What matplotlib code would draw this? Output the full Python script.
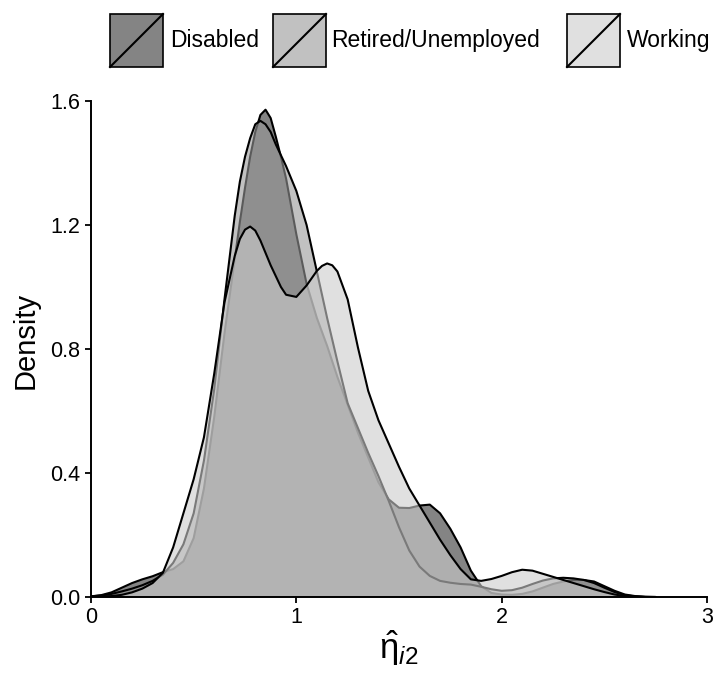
import numpy as np
import matplotlib
matplotlib.use("Agg")
import matplotlib.pyplot as plt
from matplotlib.patches import Rectangle
from matplotlib.lines import Line2D

plt.rcParams['font.family'] = ['Liberation Sans', 'DejaVu Sans']
plt.rcParams['mathtext.fontset'] = 'custom'
plt.rcParams['mathtext.rm'] = 'Liberation Sans'
plt.rcParams['mathtext.it'] = 'Liberation Sans:italic'

# ---- data ----
groups = ["Disabled", "Retired/Unemployed", "Working"]
fills = ["#333333", "#989898", "#CCCCCC"]

x_grid = [0.00, 0.05, 0.10, 0.15, 0.20, 0.25, 0.30, 0.35, 0.40, 0.45,
          0.50, 0.55, 0.60, 0.65, 0.70, 0.725, 0.75, 0.775, 0.80, 0.825,
          0.85, 0.875, 0.90, 0.925, 0.95, 1.00, 1.05, 1.10, 1.125, 1.15,
          1.175, 1.20, 1.25, 1.30, 1.35, 1.40, 1.45, 1.50, 1.55, 1.60,
          1.65, 1.70, 1.75, 1.80, 1.85, 1.90, 1.95, 2.00, 2.05, 2.10,
          2.15, 2.20, 2.25, 2.30, 2.35, 2.40, 2.45, 2.50, 2.55, 2.60,
          2.65, 2.70, 2.75]

dens_disabled = [0.002, 0.006, 0.015, 0.030, 0.045, 0.057, 0.067, 0.080, 0.090, 0.115,
                 0.190, 0.350, 0.580, 0.850, 1.090, 1.210, 1.320, 1.420, 1.500, 1.555,
                 1.572, 1.545, 1.485, 1.420, 1.350, 1.170, 1.010, 0.900, 0.855, 0.810,
                 0.760, 0.710, 0.620, 0.530, 0.450, 0.370, 0.315, 0.288, 0.287, 0.295,
                 0.298, 0.270, 0.220, 0.160, 0.085, 0.035, 0.013, 0.008, 0.007, 0.010,
                 0.018, 0.030, 0.042, 0.050, 0.055, 0.055, 0.050, 0.035, 0.020, 0.008,
                 0.003, 0.001, 0.000]

dens_retired = [0.002, 0.005, 0.010, 0.018, 0.027, 0.038, 0.052, 0.072, 0.110, 0.170,
                0.270, 0.440, 0.670, 0.960, 1.230, 1.340, 1.420, 1.480, 1.525, 1.536,
                1.525, 1.500, 1.460, 1.425, 1.390, 1.310, 1.200, 1.050, 0.975, 0.900,
                0.830, 0.760, 0.625, 0.545, 0.465, 0.390, 0.310, 0.225, 0.150, 0.098,
                0.068, 0.052, 0.046, 0.042, 0.040, 0.033, 0.025, 0.020, 0.022, 0.030,
                0.042, 0.053, 0.060, 0.062, 0.060, 0.055, 0.045, 0.030, 0.016, 0.006,
                0.002, 0.000, 0.000]

dens_working = [0.001, 0.002, 0.003, 0.007, 0.015, 0.027, 0.045, 0.078, 0.160, 0.270,
                0.380, 0.515, 0.720, 0.950, 1.100, 1.155, 1.185, 1.195, 1.182, 1.150,
                1.110, 1.070, 1.035, 1.000, 0.975, 0.968, 1.005, 1.052, 1.068, 1.076,
                1.070, 1.050, 0.960, 0.805, 0.665, 0.570, 0.495, 0.420, 0.350, 0.295,
                0.240, 0.185, 0.135, 0.090, 0.057, 0.052, 0.058, 0.068, 0.080, 0.088,
                0.085, 0.075, 0.065, 0.055, 0.045, 0.035, 0.025, 0.016, 0.008, 0.003,
                0.001, 0.000, 0.000]

x_ticks = [0, 1, 2, 3]
y_ticks = [0.0, 0.4, 0.8, 1.2, 1.6]
y_tick_labels = ["0.0", "0.4", "0.8", "1.2", "1.6"]

ALPHA = 0.6
W, H = 713, 677

fig = plt.figure(figsize=(W / 100, H / 100), dpi=100)
ax = fig.add_axes([91 / W, 1 - 597 / H, (707 - 91) / W, (597 - 101) / H])

series = [dens_disabled, dens_retired, dens_working]
x = np.array(x_grid)
for i, (d, c) in enumerate(zip(series, fills)):
    d = np.array(d)
    ax.fill_between(x, 0, d, facecolor=c, alpha=ALPHA, linewidth=0, zorder=1 + 2 * i)
    ax.plot(x, d, color="black", linewidth=1.5, zorder=2 + 2 * i,
            solid_capstyle="round", solid_joinstyle="round")

ax.set_xlim(0, 3)
ax.set_ylim(0, 1.6)
ax.set_xticks(x_ticks)
ax.set_xticklabels([str(t) for t in x_ticks])
ax.set_yticks(y_ticks)
ax.set_yticklabels(y_tick_labels)

for s in ["top", "right"]:
    ax.spines[s].set_visible(False)
for s in ["left", "bottom"]:
    ax.spines[s].set_linewidth(1.4)
    ax.spines[s].set_color("black")
    ax.spines[s].set_zorder(20)
    ax.spines[s].set_capstyle("projecting")

ax.tick_params(axis="both", direction="out", length=4.5, width=1.3,
               colors="black", labelsize=15.5, pad=3)

ax.set_ylabel("Density", fontsize=21)
ax.yaxis.set_label_coords((26 - 91) / 616, (597 - 340) / 496)
ax.yaxis.label.set_va("center")
ax.set_xlabel(r"$\hat{\mathrm{\eta}}_{i2}$", fontsize=25, labelpad=0)

# ---- legend (drawn in figure pixel space) ----
def fx(px):
    return px / W

def fy(py):
    return 1 - py / H

key_left = [110, 273, 567]
text_left = [170, 331, 627]
key_top, key_size = 14, 53
for kl, tl, g, c in zip(key_left, text_left, groups, fills):
    rgba = matplotlib.colors.to_rgba(c, ALPHA)
    rect = Rectangle((fx(kl), fy(key_top + key_size)), key_size / W, key_size / H,
                     transform=fig.transFigure, facecolor=rgba, edgecolor="black",
                     linewidth=1.2)
    fig.add_artist(rect)
    diag = Line2D([fx(kl), fx(kl + key_size)], [fy(key_top + key_size), fy(key_top)],
                  transform=fig.transFigure, color="black", linewidth=1.5)
    fig.add_artist(diag)
    fig.text(fx(tl), fy(key_top + key_size / 2), g, fontsize=16.5,
             ha="left", va="center")

fig.savefig("out.png", dpi=100)
